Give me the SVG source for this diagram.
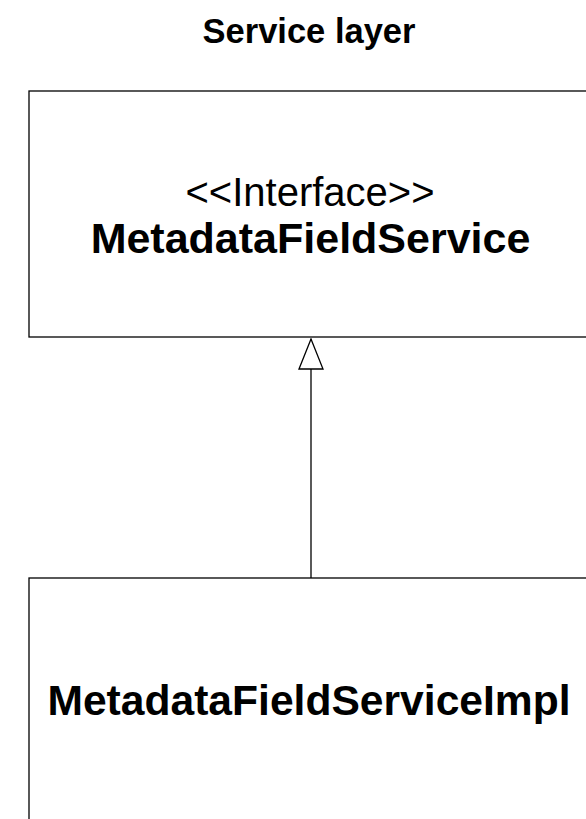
<svg xmlns="http://www.w3.org/2000/svg" width="586" height="819" viewBox="0 0 586 819">
<defs>
<style>
.box{fill:#fff;stroke:#000;stroke-width:1.3}
.t{font-family:"Liberation Sans",Arial,Helvetica,sans-serif;fill:#000;text-anchor:middle}
.b{font-weight:bold}
.edge{stroke:#000;stroke-width:1.3;fill:none}
</style>
<marker id="tri" viewBox="0 0 32 26" refX="31" refY="13" markerWidth="32" markerHeight="26" markerUnits="userSpaceOnUse" orient="auto">
<path d="M1,1 L31,13 L1,25 Z" fill="#fff" stroke="#000" stroke-width="1.3"/>
</marker>
</defs>
<rect width="586" height="819" fill="#fff"/>
<text class="t b" x="309" y="43" font-size="34.5">Service layer</text>
<g id="MetadataFieldService">
<rect class="box" x="29" y="91" width="564" height="246"/>
<text class="t" x="310" y="206" font-size="40">&lt;&lt;Interface&gt;&gt;</text>
<text class="t b" x="310.5" y="253" font-size="43">MetadataFieldService</text>
</g>
<g id="MetadataFieldServiceImpl">
<rect class="box" x="29" y="578" width="564" height="260"/>
<text class="t b" x="309" y="715" font-size="42.6">MetadataFieldServiceImpl</text>
</g>
<g id="connectors">
<path class="edge" d="M311,578 L311,339" marker-end="url(#tri)"/>
</g>
</svg>
